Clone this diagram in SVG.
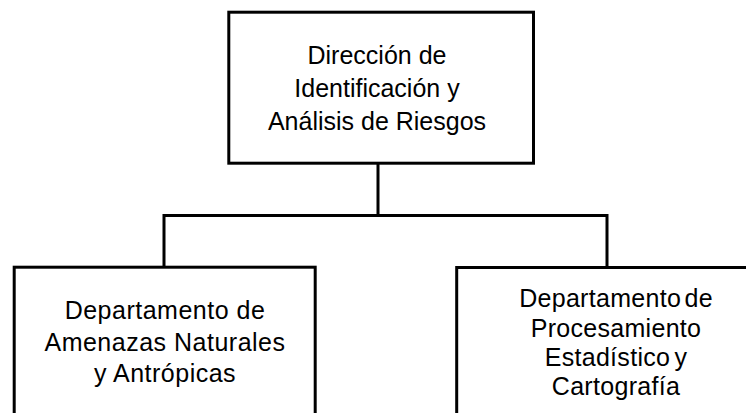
<svg xmlns="http://www.w3.org/2000/svg" width="746" height="413" viewBox="0 0 746 413">
<style>
.box{fill:#fff;stroke:#000;stroke-width:3}
.conn{fill:none;stroke:#000;stroke-width:3}
.t{font-family:"Liberation Sans",Arial,sans-serif;font-size:25px;fill:#000;text-anchor:middle}
.ls{letter-spacing:0.5px}
.rs{letter-spacing:0.3px}
</style>
<rect width="746" height="413" fill="#fff"/>
<g id="connectors">
<path class="conn" d="M378,163 V215.6 M164,215.6 H607 M164,214 V268 M607,214 V268"/>
</g>
<g id="node-direccion">
<rect class="box" x="228.8" y="12.2" width="304.7" height="151"/>
<text class="t" x="377" y="64">Dirección de</text>
<text class="t" x="377" y="97">Identificación y</text>
<text class="t" x="377" y="130">Análisis de Riesgos</text>
</g>
<g id="node-amenazas">
<rect class="box" x="14.2" y="267.2" width="301" height="160"/>
<text class="t ls" x="165" y="319">Departamento de</text>
<text class="t ls" x="165" y="351">Amenazas Naturales</text>
<text class="t ls" x="165" y="382">y Antrópicas</text>
</g>
<g id="node-procesamiento">
<rect class="box" x="456.7" y="267.5" width="310" height="160"/>
<text class="t rs" x="616" y="306.5" word-spacing="-4">Departamento de</text>
<text class="t rs" x="616" y="336.5">Procesamiento</text>
<text class="t rs" x="616" y="366" word-spacing="-3">Estadístico y</text>
<text class="t rs" x="616" y="395">Cartografía</text>
</g>
</svg>
